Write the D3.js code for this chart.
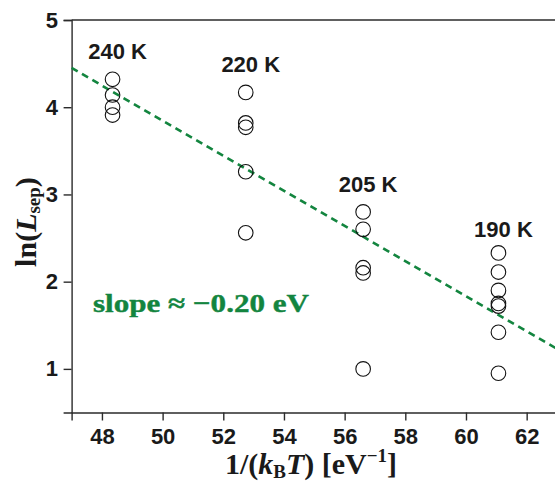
<!DOCTYPE html>
<html><head><meta charset="utf-8">
<script src="https://cdn.jsdelivr.net/npm/d3@7"></script>
<style>
html,body{margin:0;padding:0;background:#fff;}
svg{display:block;}
</style></head>
<body>
<script>
// ---- data ----
const groupLabels = ["240 K", "220 K", "205 K", "190 K"];
const groupX = [48.35, 52.74, 56.61, 61.07];
const pts240 = [4.32, 4.14, 4.00, 3.91];
const pts220 = [4.17, 3.82, 3.77, 3.26, 2.56];
const pts205 = [2.80, 2.60, 2.16, 2.10, 1.00];
const pts190 = [2.33, 2.11, 1.90, 1.75, 1.72, 1.42, 0.95];
const groupLabelY = [4.55, 4.40, 3.03, 2.51];
const fitX = [47, 63];
const fitY = [4.45, 1.23];
const xTicks = [48, 50, 52, 54, 56, 58, 60, 62];
const yTicks = [1, 2, 3, 4, 5];

const W = 555, H = 483;
const svg = d3.select("body").append("svg").attr("width", W).attr("height", H);

const x = d3.scaleLinear().domain([47, 63]).range([71.6, 557]);
const y = d3.scaleLinear().domain([0.5, 5]).range([412.5, 20]);

const axisColor = "#2b2b2b";
const sans = "'Liberation Sans', Arial, sans-serif";
const serif = "'Liberation Serif', 'DejaVu Serif', serif";

// frame: top line
svg.append("line").attr("x1", x(47)).attr("x2", W).attr("y1", y(5)).attr("y2", y(5))
  .attr("stroke", axisColor).attr("stroke-width", 1.4);

// x axis
const gx = svg.append("g").attr("transform", `translate(0,${y(0.5)})`);
gx.call(d3.axisBottom(x).tickValues(d3.range(47, 64, 1)).tickSize(5).tickFormat(""));
gx.call(d3.axisBottom(x).tickValues(xTicks).tickSize(8).tickFormat(d3.format("d")));
gx.selectAll("path.domain").attr("stroke", axisColor).attr("stroke-width", 1.4);
gx.selectAll(".tick line").attr("stroke", axisColor).attr("stroke-width", 1.4);
gx.selectAll(".tick text").attr("font-family", sans)
  .attr("font-weight", "bold").attr("font-size", 22).attr("fill", "#1a1a1a").attr("dy", "0.95em");

// y axis
const gy = svg.append("g").attr("transform", `translate(${x(47)},0)`);
gy.call(d3.axisLeft(y).tickValues(d3.range(0.5, 5.01, 0.5)).tickSize(5).tickFormat(""));
gy.call(d3.axisLeft(y).tickValues(yTicks).tickSize(8).tickFormat(d3.format("d")));
gy.selectAll("path.domain").attr("stroke", axisColor).attr("stroke-width", 1.4);
gy.selectAll(".tick line").attr("stroke", axisColor).attr("stroke-width", 1.4);
gy.selectAll(".tick text").attr("font-family", sans)
  .attr("font-weight", "bold").attr("font-size", 22).attr("fill", "#1a1a1a").attr("dx", "-0.12em");

// fit line
const green = "#13853f";
svg.append("line")
  .attr("x1", x(fitX[0])).attr("y1", y(fitY[0]))
  .attr("x2", x(fitX[1])).attr("y2", y(fitY[1]))
  .attr("stroke", green).attr("stroke-width", 2.6).attr("stroke-dasharray", "7,5");

// points
const groups = [pts240, pts220, pts205, pts190];
groups.forEach((arr, i) => {
  svg.append("g").selectAll("circle").data(arr).enter().append("circle")
    .attr("cx", x(groupX[i])).attr("cy", d => y(d)).attr("r", 7.3)
    .attr("fill", "none").attr("stroke", "#111").attr("stroke-width", 1.1);
});

// group labels
svg.append("g").selectAll("text").data(groupLabels).enter().append("text")
  .attr("x", (d, i) => x(groupX[i]) + 5)
  .attr("y", (d, i) => y(groupLabelY[i]))
  .attr("text-anchor", "middle")
  .attr("font-family", sans)
  .attr("font-weight", "bold").attr("font-size", 22).attr("fill", "#1a1a1a")
  .text(d => d);

// slope annotation
svg.append("text").attr("x", 93).attr("y", 312)
  .attr("font-family", serif)
  .attr("font-weight", "bold").attr("font-size", 26).attr("fill", green)
  .attr("stroke", green).attr("stroke-width", 0.4)
  .attr("textLength", 216).attr("lengthAdjust", "spacingAndGlyphs")
  .text("slope ≈ −0.20 eV");

// x axis title
const xt = svg.append("text").attr("x", 311).attr("y", 474).attr("text-anchor", "middle")
  .attr("font-family", serif)
  .attr("font-weight", "bold").attr("font-size", 30).attr("fill", "#1a1a1a");
xt.append("tspan").text("1/(");
xt.append("tspan").attr("font-style", "italic").text("k");
xt.append("tspan").attr("font-size", 19).attr("dy", 4).text("B");
xt.append("tspan").attr("font-style", "italic").attr("dy", -4).text("T");
xt.append("tspan").text(") [eV");
xt.append("tspan").attr("font-size", 19).attr("dy", -12).text("−1");
xt.append("tspan").attr("dy", 12).text("]");

// y axis title
const yt = svg.append("text").attr("transform", "translate(36,222) rotate(-90)")
  .attr("text-anchor", "middle")
  .attr("font-family", serif)
  .attr("font-weight", "bold").attr("font-size", 30).attr("fill", "#1a1a1a");
yt.append("tspan").text("ln(");
yt.append("tspan").attr("font-style", "italic").text("L");
yt.append("tspan").attr("font-size", 19).attr("dy", 4).text("sep");
yt.append("tspan").attr("dy", -4).text(")");
</script>
</body></html>
